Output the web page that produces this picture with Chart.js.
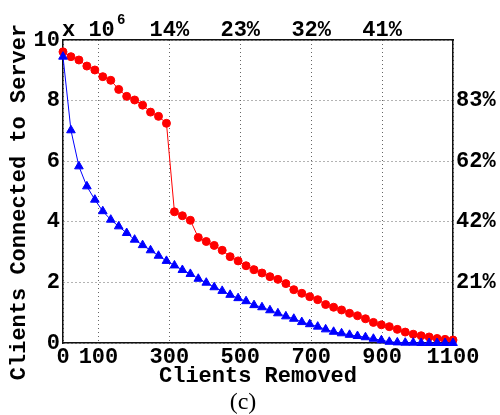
<!DOCTYPE html>
<html>
<head>
<meta charset="utf-8">
<script src="https://cdn.jsdelivr.net/npm/chart.js@4/dist/chart.umd.min.js"></script>
<style>
  html, body { margin: 0; padding: 0; background: #fff; }
  #wrap { width: 500px; height: 415px; }
</style>
</head>
<body>
<div id="wrap"><canvas id="myChart" width="500" height="415"></canvas></div>
<script>
// clients removed (x), 50 samples from 0 to 1100
const clientsRemoved = [0, 22.4, 44.9, 67.3, 89.8, 112.2, 134.7, 157.1, 179.6, 202,
  224.5, 246.9, 269.4, 291.8, 314.3, 336.7, 359.2, 381.6, 404.1, 426.5,
  449, 471.4, 493.9, 516.3, 538.8, 561.2, 583.7, 606.1, 628.6, 651,
  673.5, 695.9, 718.4, 740.8, 763.3, 785.7, 808.2, 830.6, 853.1, 875.5,
  898, 920.4, 942.9, 965.3, 987.8, 1010.2, 1032.7, 1055.1, 1077.6, 1100];

// clients connected to server (x 10^6)
const redSeries = [9.61, 9.45, 9.34, 9.14, 9.01, 8.79, 8.67, 8.37, 8.14, 8.02,
  7.85, 7.62, 7.48, 7.25, 4.33, 4.20, 4.05, 3.48, 3.35, 3.22,
  3.06, 2.85, 2.71, 2.55, 2.42, 2.31, 2.19, 2.10, 1.96, 1.76,
  1.64, 1.53, 1.43, 1.27, 1.18, 1.09, 0.98, 0.90, 0.80, 0.68,
  0.60, 0.54, 0.45, 0.36, 0.29, 0.24, 0.20, 0.15, 0.12, 0.10];
const blueSeries = [9.45, 7.02, 5.83, 5.17, 4.73, 4.35, 4.07, 3.85, 3.63, 3.41,
  3.23, 3.06, 2.88, 2.71, 2.56, 2.41, 2.28, 2.12, 1.99, 1.84,
  1.72, 1.59, 1.48, 1.38, 1.25, 1.18, 1.08, 0.98, 0.88, 0.80,
  0.69, 0.62, 0.54, 0.45, 0.37, 0.32, 0.27, 0.23, 0.19, 0.14,
  0.09, 0.04, 0.02, 0.01, 0.01, 0, 0, 0, 0, 0];

// tick labels
const bottomTicks = [0, 100, 300, 500, 700, 900, 1100];
const topTicks = [300, 500, 700, 900];
const topLabels = ['14%', '23%', '32%', '41%'];
const leftTicks = [0, 2, 4, 6, 8, 10];
const rightTicks = [2, 4, 6, 8];
const rightLabels = ['21%', '42%', '62%', '83%'];

const monoFont = 'Liberation Mono';
const tickFont = { family: monoFont, size: 22, weight: 'bold', lineHeight: 1 };
const gridColor = '#666';

function toPoints(ys) {
  return ys.map((y, i) => ({ x: clientsRemoved[i], y: y }));
}

// titles and the exponent label
const extraText = {
  id: 'extraText',
  afterDraw(chart) {
    const c = chart.ctx;
    c.save();
    c.fillStyle = '#000';
    c.textBaseline = 'alphabetic';
    c.textAlign = 'left';
    c.font = 'bold 22px "' + monoFont + '"';
    c.fillText('x 10', 62, 36);
    c.font = 'bold 14px "' + monoFont + '"';
    c.fillText('6', 117, 24);

    c.font = 'bold 22px "' + monoFont + '"';
    c.textAlign = 'center';
    c.fillText('Clients Removed', 258, 382);

    c.save();
    c.translate(25, 202);
    c.rotate(-Math.PI / 2);
    c.fillText('Clients Connected to Server', 0, 0);
    c.restore();

    c.font = '24px "Liberation Serif"';
    c.fillText('(c)', 243, 409);
    c.restore();
  }
};

const ctx = document.getElementById('myChart');

new Chart(ctx, {
  type: 'line',
  data: {
    datasets: [{
      label: 'blue',
      data: toPoints(blueSeries),
      borderColor: '#0000ff',
      backgroundColor: '#0000ff',
      borderWidth: 1,
      pointStyle: 'triangle',
      pointRadius: 5,
      pointBorderWidth: 1,
      clip: false,
      xAxisID: 'x',
      yAxisID: 'y'
    }, {
      label: 'red',
      data: toPoints(redSeries),
      borderColor: '#ff0000',
      backgroundColor: '#ff0000',
      borderWidth: 1,
      pointStyle: 'circle',
      pointRadius: 4,
      pointBorderWidth: 1,
      clip: false,
      xAxisID: 'x',
      yAxisID: 'y'
    }]
  },
  options: {
    responsive: false,
    animation: false,
    devicePixelRatio: 1,
    layout: { padding: 0 },
    plugins: {
      legend: { display: false },
      tooltip: { enabled: false }
    },
    scales: {
      x: {
        type: 'linear', position: 'bottom', min: 0, max: 1100,
        afterBuildTicks: s => { s.ticks = bottomTicks.map(v => ({ value: v })); },
        afterFit: s => { s.height = 72; },
        ticks: {
          font: tickFont, color: '#000', padding: 3, maxRotation: 0, autoSkip: false,
          callback: v => String(v)
        },
        grid: { display: true, color: gridColor, lineWidth: 1, drawTicks: false, drawOnChartArea: true },
        border: { color: '#111', width: 1.5, dash: [1, 3] }
      },
      x2: {
        type: 'linear', position: 'top', min: 0, max: 1100,
        afterBuildTicks: s => { s.ticks = topTicks.map(v => ({ value: v })); },
        afterFit: s => { s.height = 40; },
        ticks: {
          font: tickFont, color: '#000', padding: -1, maxRotation: 0, autoSkip: false,
          callback: v => topLabels[topTicks.indexOf(v)]
        },
        grid: { display: false, drawTicks: false },
        border: { color: '#111', width: 1.5 }
      },
      y: {
        type: 'linear', position: 'left', min: 0, max: 10,
        afterBuildTicks: s => { s.ticks = leftTicks.map(v => ({ value: v })); },
        afterFit: s => { s.width = 63; },
        ticks: { font: tickFont, color: '#000', padding: 3, callback: v => String(v) },
        grid: { display: true, color: gridColor, lineWidth: 1, drawTicks: false, drawOnChartArea: true },
        border: { color: '#111', width: 1.5, dash: [1, 3] }
      },
      y2: {
        type: 'linear', position: 'right', min: 0, max: 10,
        afterBuildTicks: s => { s.ticks = rightTicks.map(v => ({ value: v })); },
        afterFit: s => { s.width = 47; },
        ticks: {
          font: tickFont, color: '#000', padding: 3,
          callback: v => rightLabels[rightTicks.indexOf(v)]
        },
        grid: { display: false, drawTicks: false },
        border: { color: '#111', width: 1.5 }
      }
    }
  },
  plugins: [extraText]
});
</script>
</body>
</html>
